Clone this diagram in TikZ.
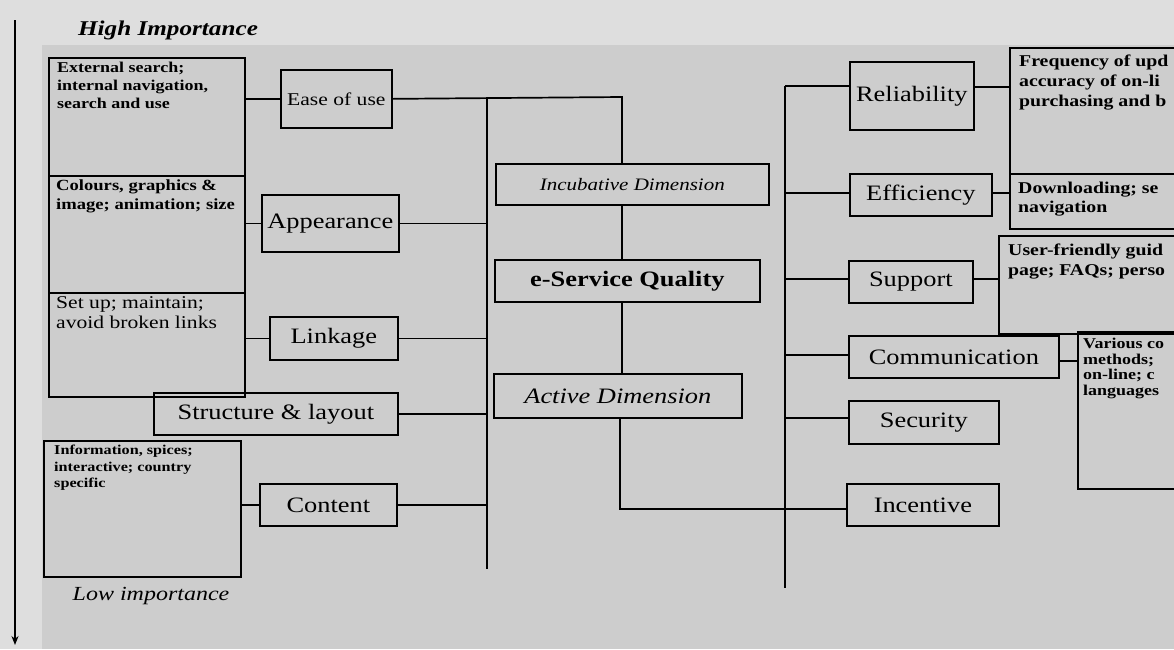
\documentclass[tikz,border=0pt]{standalone}
\usepackage{fontspec}
\setmainfont{Liberation Serif}[FakeStretch=1.2]
\usetikzlibrary{arrows.meta}
\definecolor{bgout}{HTML}{DEDEDE}
\definecolor{bgin}{HTML}{CDCDCD}
\tikzset{
  box/.style={draw=black, line width=1.7pt, anchor=north west, inner sep=0pt, align=center},
  dtext/.style={anchor=north west, inner sep=0pt, align=left},
  conn/.style={draw=black, line width=1.7pt},
  lab/.style={font=\fontsize{22}{26}\selectfont},
}
\begin{document}
\begin{tikzpicture}[x=1pt,y=-1pt]
\useasboundingbox (0,0) rectangle (1174,649);
\clip (0,0) rectangle (1174,649);
\fill[bgout] (0,0) rectangle (1174,649);
\fill[bgin] (42,45) rectangle (1174,649);

% importance arrow
\coordinate (arTop) at (15,20);
\coordinate (arBot) at (15,645);
\draw[line width=1.4pt, -{Stealth[length=9pt,width=7pt]}] (arTop) -- (arBot);
\node[font=\fontsize{21}{24}\selectfont\bfseries\itshape] (hi) at (168,30) {High Importance};
\node[font=\fontsize{20}{24}\selectfont\itshape] (lo) at (151,596) {Low importance};

% left detail boxes
\node[box, minimum width=196pt, minimum height=118pt] (d1) at (48,57) {};
\node[box, minimum width=196pt, minimum height=117pt] (d2) at (48,175) {};
\node[box, minimum width=196pt, minimum height=104pt] (d3) at (48,292) {};
\node[box, minimum width=197pt, minimum height=136pt] (d4) at (43,440) {};
\node[dtext, font=\fontsize{15}{18}\selectfont\bfseries] (t1) at (57,62) {External search;\\internal navigation,\\search and use};
\node[dtext, font=\fontsize{15.5}{19}\selectfont\bfseries] (t2) at (56,180) {Colours, graphics \&\\image; animation; size};
\node[dtext, font=\fontsize{18}{20}\selectfont] (t3) at (56,296) {Set up; maintain;\\avoid broken links};
\node[dtext, font=\fontsize{13.5}{16.5}\selectfont\bfseries] (t4) at (54,445) {Information, spices;\\interactive; country\\specific};

% left aspect boxes
\node[box, minimum width=111pt, minimum height=58pt, font=\fontsize{18}{22}\selectfont] (ease) at (280,69) {Ease of use};
\node[box, minimum width=137pt, minimum height=57pt, lab] (app) at (261,194) {Appearance};
\node[box, minimum width=128pt, minimum height=43pt, lab] (link) at (269,316) {Linkage};
\node[box, minimum width=244pt, minimum height=42pt, lab] (struct) at (153,392) {Structure \& layout};
\node[box, minimum width=137pt, minimum height=42pt, lab] (cont) at (259,483) {Content};

% centre boxes
\node[box, minimum width=273pt, minimum height=41pt, font=\fontsize{17.5}{21}\selectfont\itshape] (incub) at (495,163) {Incubative Dimension};
\node[box, minimum width=265pt, minimum height=42pt, font=\fontsize{22}{25}\selectfont\bfseries] (esq) at (494,259) {e-Service Quality};
\node[box, minimum width=248pt, minimum height=44pt, font=\fontsize{22}{26}\selectfont\itshape] (act) at (493,373) {Active Dimension};

% right aspect boxes
\node[box, minimum width=124pt, minimum height=68pt, lab] (rel) at (849,61) {Reliability};
\node[box, minimum width=142pt, minimum height=42pt, lab] (eff) at (849,173) {Efficiency};
\node[box, minimum width=124pt, minimum height=42pt, lab] (sup) at (848,260) {Support};
\node[box, minimum width=210pt, minimum height=42pt, lab] (com) at (848,335) {Communication};
\node[box, minimum width=150pt, minimum height=43pt, lab] (sec) at (848,400) {Security};
\node[box, minimum width=152pt, minimum height=42pt, lab] (inc) at (846,483) {Incentive};

% right detail boxes
\node[box, minimum width=200pt, minimum height=126pt] (relD) at (1009,47) {};
\node[box, minimum width=200pt, minimum height=55pt] (effD) at (1009,173) {};
\node[box, minimum width=210pt, minimum height=98pt] (supD) at (998,235) {};
\node[box, minimum width=130pt, minimum height=157pt] (comD) at (1077,331) {};
\node[dtext, font=\fontsize{16.5}{20}\selectfont\bfseries] (rt1) at (1019,55) {Frequency of upd\\accuracy of on-li\\purchasing and b};
\node[dtext, font=\fontsize{16.5}{19}\selectfont\bfseries] (rt2) at (1018,182) {Downloading; se\\navigation};
\node[dtext, font=\fontsize{16.5}{20}\selectfont\bfseries] (rt3) at (1008,244) {User-friendly guid\\page; FAQs; perso};
\node[dtext, font=\fontsize{15}{15.5}\selectfont\bfseries] (rt4) at (1083,338) {Various co\\methods;\\on-line; c\\languages};

% left connectors
\coordinate (tlTop) at (487,97);
\coordinate (tlBot) at (487,569);
\coordinate (cTop) at (622,97);
\draw[conn] (d1.east |- ease.west) -- (ease.west);
\draw[conn] (d2.east |- app.west) -- (app.west);
\draw[conn] (d3.east |- link.west) -- (link.west);
\draw[conn] (d4.east |- cont.west) -- (cont.west);
\draw[conn] (ease.east) -- (cTop) -- (cTop |- incub.north);
\draw[conn] (tlTop) -- (tlBot);
\draw[conn] (app.east) -- (tlTop |- app.east);
\draw[conn] (link.east) -- (tlTop |- link.east);
\draw[conn] (struct.east) -- (tlTop |- struct.east);
\draw[conn] (cont.east) -- (tlTop |- cont.east);

% centre connectors
\draw[conn] (cTop |- incub.south) -- (cTop |- esq.north);
\draw[conn] (cTop |- esq.south) -- (cTop |- act.north);
\coordinate (aTurn) at (620,509);
\draw[conn] (aTurn |- act.south) -- (aTurn) -- (aTurn -| inc.west);

% right connectors
\coordinate (trTop) at (785,86);
\coordinate (trBot) at (785,588);
\draw[conn] (trTop) -- (trBot);
\draw[conn] (trTop) -- (trTop -| rel.west);
\coordinate (yEff) at (785,193);
\coordinate (ySup) at (785,279);
\coordinate (yCom) at (785,355);
\coordinate (ySec) at (785,418);
\draw[conn] (yEff) -- (yEff -| eff.west);
\draw[conn] (ySup) -- (ySup -| sup.west);
\draw[conn] (yCom) -- (yCom -| com.west);
\draw[conn] (ySec) -- (ySec -| sec.west);
\coordinate (rRel) at (973,87);
\coordinate (rCom) at (1058,361);
\draw[conn] (rRel) -- (rRel -| relD.west);
\draw[conn] (eff.east |- yEff) -- (yEff -| effD.west);
\draw[conn] (sup.east |- ySup) -- (ySup -| supD.west);
\draw[conn] (rCom) -- (rCom -| comD.west);
\end{tikzpicture}
\end{document}
